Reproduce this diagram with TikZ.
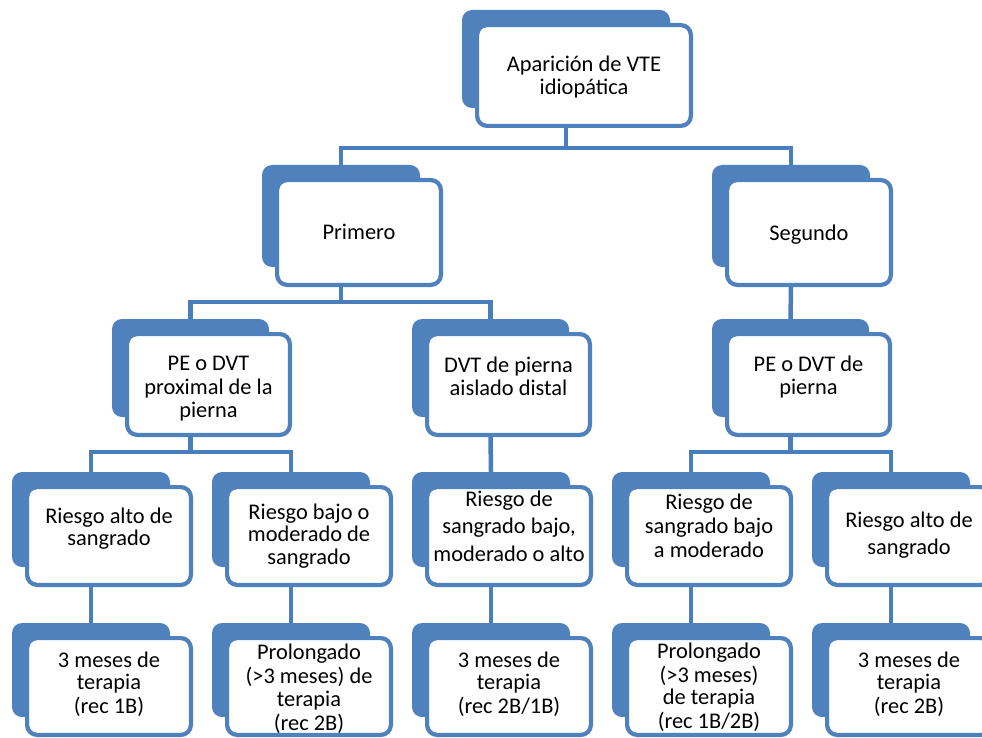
\documentclass[tikz,border=0pt]{standalone}
\usepackage{fontspec}
\setmainfont{Carlito}
\usetikzlibrary{backgrounds}
\definecolor{sblue}{HTML}{4F81BD}
\definecolor{cblue}{HTML}{4A7EBB}
\tikzset{
  backbox/.style={fill=sblue, draw=none, rounded corners=10pt, inner sep=0pt},
  frontbox/.style={fill=white, draw=sblue, line width=4.2pt, rounded corners=10pt, inner sep=0pt},
  boxtext/.style={align=center, inner sep=0pt, text=black},
  conn/.style={draw=cblue, line width=4.5pt},
}
% [#1 line spacing], #2 name, #3 left, #4 top, #5 right, #6 bottom (front box, outer edges),
% #7 first baseline y, #8 number of lines, #9 text
\newcommand{\smartbox}[9][22.4]{%
  \node[backbox, minimum width={(#5-#3-10)*1pt}, minimum height={(#6-#4-7)*1pt}]
    (#2b) at ({(#3+#5)/2-18},{(#4+#6)/2-16.5}) {};
  \node[frontbox, minimum width={(#5-#3-4.2)*1pt}, minimum height={(#6-#4-4.2)*1pt}]
    (#2) at ({(#3+#5)/2},{(#4+#6)/2}) {};
  \node[boxtext, font=\fontsize{22.4}{#1}\selectfont] (#2t)
    at ({(#3+#5)/2},{#7+#8*#1/2-0.7*#1}) {#9};
}
\begin{document}
\begin{tikzpicture}[x=1pt, y=-1pt]
\useasboundingbox (0,0) rectangle (982,738);
\clip (0,0) rectangle (982,738);

\smartbox[22]{n1}{475}{23}{693}{128}{72}{2}{\strut Aparición de VTE\\\strut idiopática}
\smartbox{n2}{275}{178}{443}{287}{240}{1}{\strut Primero}
\smartbox{n3}{725}{178}{893}{287}{240.5}{1}{\strut Segundo}
\smartbox[22]{n4}{125}{332}{292}{437}{372}{3}{\strut PE o DVT\\\strut proximal de la\\\strut pierna}
\smartbox{n5}{425}{332}{592}{437}{372.7}{2}{\strut DVT de pierna\\\strut aislado distal}
\smartbox{n6}{725}{332}{892}{437}{371.7}{2}{\strut PE o DVT de\\\strut pierna}

\smartbox[22.7]{n7}{25}{485}{193}{587}{523}{2}{\strut Riesgo alto de\\\strut sangrado}
\smartbox[22.5]{n8}{225}{485}{393}{587}{519}{3}{\strut Riesgo bajo o\\\strut moderado de\\\strut sangrado}
\smartbox[27.5]{n9}{425}{485}{593}{587}{506}{3}{\strut Riesgo de\\\strut sangrado bajo,\\\strut moderado o alto}
\smartbox[24]{n10}{625}{485}{793}{587}{509.5}{3}{\strut Riesgo de\\\strut sangrado bajo\\\strut a moderado}
\smartbox[27.5]{n11}{825}{485}{993}{587}{527}{2}{\strut Riesgo alto de\\\strut sangrado}

\smartbox{n12}{25}{636}{193}{737}{668}{3}{\strut 3 meses de\\\strut terapia\\\strut (rec 1B)}
\smartbox[22]{n13}{225}{636}{393}{737}{662}{4}{\strut Prolongado\\\strut (>3 meses) de\\\strut terapia\\\strut (rec 2B)}
\smartbox{n14}{425}{636}{593}{737}{668}{3}{\strut 3 meses de\\\strut terapia\\\strut (rec 2B/1B)}
\smartbox[22.3]{n15}{625}{636}{793}{737}{660}{4}{\strut Prolongado\\\strut (>3 meses)\\\strut de terapia\\\strut (rec 1B/2B)}
\smartbox{n16}{825}{636}{993}{737}{668}{3}{\strut 3 meses de\\\strut terapia\\\strut (rec 2B)}

\coordinate (bus1) at (0,148);
\coordinate (bus2) at (0,302);
\coordinate (bus3) at (0,452);

\begin{scope}[on background layer]
  \draw[conn] (n1b.south |- n1.south) -- (n1b.south |- bus1) -| (n2b.north);
  \draw[conn] (n1b.south |- bus1) -| (n3b.north);
  \draw[conn] (n2b.south |- n2.south) -- (n2b.south |- bus2) -| (n4b.north);
  \draw[conn] (n2b.south |- bus2) -| (n5b.north);
  \draw[conn] (n3b.south |- n3.south) -- (n6b.north);
  \draw[conn] (n4b.south |- n4.south) -- (n4b.south |- bus3) -| (n7b.north);
  \draw[conn] (n4b.south |- bus3) -| (n8b.north);
  \draw[conn] (n5b.south |- n5.south) -- (n9b.north);
  \draw[conn] (n6b.south |- n6.south) -- (n6b.south |- bus3) -| (n10b.north);
  \draw[conn] (n6b.south |- bus3) -| (n11b.north);
  \draw[conn] (n7b.south |- n7.south) -- (n12b.north);
  \draw[conn] (n8b.south |- n8.south) -- (n13b.north);
  \draw[conn] (n9b.south |- n9.south) -- (n14b.north);
  \draw[conn] (n10b.south |- n10.south) -- (n15b.north);
  \draw[conn] (n11b.south |- n11.south) -- (n16b.north);
\end{scope}
\end{tikzpicture}
\end{document}
